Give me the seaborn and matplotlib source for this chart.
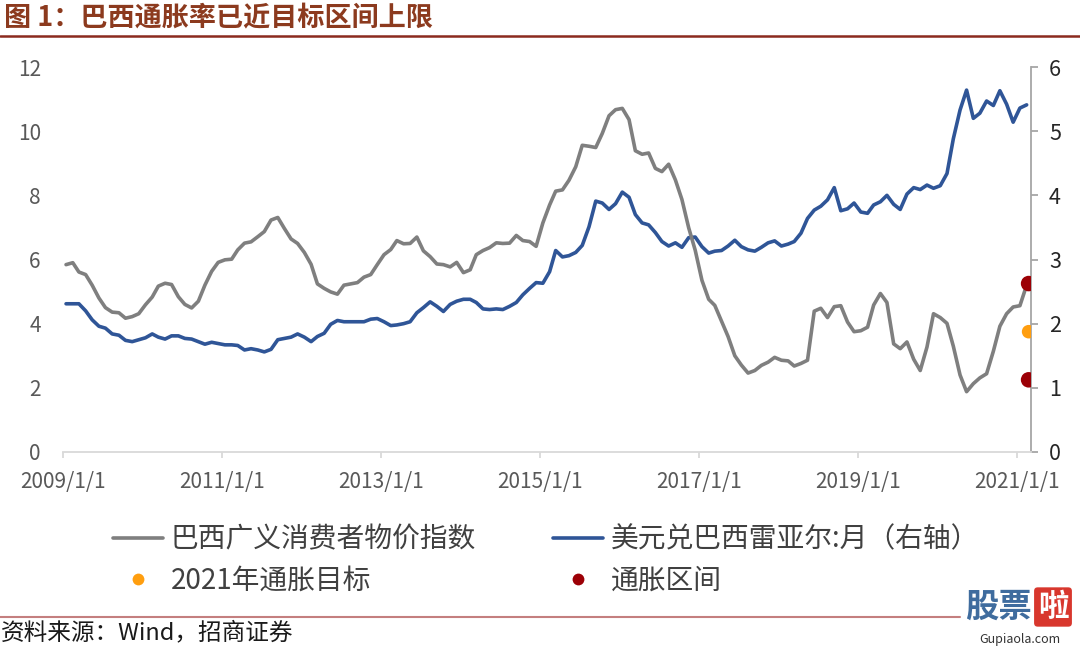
import numpy as np
import pandas as pd
import matplotlib
matplotlib.use("Agg")
import matplotlib.pyplot as plt
import matplotlib.dates as mdates
import seaborn as sns
from matplotlib.lines import Line2D

# ---------------- data ----------------
start_month = "2009-01"
# Brazil IPCA, 12-month % (left axis)
cpi = [
    5.84, 5.90, 5.61, 5.53, 5.20, 4.80, 4.50, 4.36, 4.34, 4.17, 4.22, 4.31,
    4.59, 4.83, 5.17, 5.26, 5.22, 4.84, 4.60, 4.49, 4.70, 5.20, 5.63, 5.91,
    5.99, 6.01, 6.30, 6.51, 6.55, 6.71, 6.87, 7.23, 7.31, 6.97, 6.64, 6.50,
    6.22, 5.85, 5.24, 5.10, 4.99, 4.92, 5.20, 5.24, 5.28, 5.45, 5.53, 5.84,
    6.15, 6.31, 6.59, 6.49, 6.50, 6.70, 6.27, 6.09, 5.86, 5.84, 5.77, 5.91,
    5.59, 5.68, 6.15, 6.28, 6.37, 6.52, 6.50, 6.51, 6.75, 6.59, 6.56, 6.41,
    7.14, 7.70, 8.13, 8.17, 8.47, 8.89, 9.56, 9.53, 9.49, 9.93, 10.48, 10.67,
    10.71, 10.36, 9.39, 9.28, 9.32, 8.84, 8.74, 8.97, 8.48, 7.87, 6.99, 6.29,
    5.35, 4.76, 4.57, 4.08, 3.60, 3.00, 2.71, 2.46, 2.54, 2.70, 2.80, 2.95,
    2.86, 2.84, 2.68, 2.76, 2.86, 4.39, 4.48, 4.19, 4.53, 4.56, 4.05, 3.75,
    3.78, 3.89, 4.58, 4.94, 4.66, 3.37, 3.22, 3.43, 2.89, 2.54, 3.27, 4.31,
    4.19, 4.01, 3.30, 2.40, 1.88, 2.13, 2.31, 2.44, 3.14, 3.92, 4.31, 4.52,
    4.56, 5.20,
]
# USD/BRL monthly (right axis)
brl = [
    2.31, 2.31, 2.31, 2.20, 2.06, 1.96, 1.93, 1.84, 1.82, 1.74, 1.72, 1.75,
    1.78, 1.84, 1.79, 1.76, 1.81, 1.81, 1.77, 1.76, 1.72, 1.68, 1.71, 1.69,
    1.67, 1.67, 1.66, 1.59, 1.61, 1.59, 1.56, 1.60, 1.75, 1.77, 1.79, 1.84,
    1.79, 1.72, 1.80, 1.85, 1.99, 2.05, 2.03, 2.03, 2.03, 2.03, 2.07, 2.08,
    2.03, 1.97, 1.98, 2.00, 2.03, 2.17, 2.25, 2.34, 2.27, 2.19, 2.30, 2.35,
    2.38, 2.38, 2.33, 2.23, 2.22, 2.23, 2.22, 2.27, 2.33, 2.45, 2.55, 2.64,
    2.63, 2.81, 3.14, 3.04, 3.06, 3.11, 3.22, 3.51, 3.91, 3.88, 3.78, 3.87,
    4.05, 3.97, 3.70, 3.57, 3.54, 3.42, 3.28, 3.21, 3.26, 3.19, 3.34, 3.35,
    3.20, 3.10, 3.13, 3.14, 3.21, 3.30, 3.20, 3.15, 3.13, 3.19, 3.26, 3.29,
    3.21, 3.24, 3.28, 3.41, 3.64, 3.77, 3.83, 3.93, 4.12, 3.76, 3.79, 3.88,
    3.74, 3.72, 3.85, 3.90, 4.00, 3.86, 3.78, 4.02, 4.12, 4.09, 4.16, 4.11,
    4.15, 4.34, 4.88, 5.33, 5.64, 5.20, 5.28, 5.47, 5.40, 5.63, 5.42, 5.14,
    5.36, 5.41,
]
target_2021 = [3.75]
band_2021 = [2.25, 5.25]
xtick_years = [2009, 2011, 2013, 2015, 2017, 2019, 2021]
left_ticks = [0, 2, 4, 6, 8, 10, 12]
right_ticks = [0, 1, 2, 3, 4, 5, 6]

label_cpi = "巴西广义消费者物价指数"
label_brl = "美元兑巴西雷亚尔:月（右轴）"
label_target = "2021年通胀目标"
label_band = "通胀区间"
title = "图 1：巴西通胀率已近目标区间上限"
source = "资料来源：Wind，招商证券"

# ---------------- style ----------------
sns.set_theme(style="white")
plt.rcParams["font.family"] = ["Noto Sans CJK SC", "DejaVu Sans"]

C_GRAY = "#7F7F7F"
C_BLUE = "#2F5597"
C_ORANGE = "#FF9E0F"
C_RED = "#9C0006"

W, H = 1080, 648
fig = plt.figure(figsize=(W / 100, H / 100), dpi=100)
ax = fig.add_axes([63 / W, 1 - 452 / H, (1031 - 63) / W, (452 - 67) / H])
ax2 = ax.twinx()

dates = pd.date_range(start_month + "-01", periods=len(cpi), freq="MS") + pd.Timedelta(days=14)
df = pd.DataFrame({"date": dates, "cpi": cpi, "brl": brl})

sns.lineplot(data=df, x="date", y="brl", ax=ax2, color=C_BLUE, linewidth=2.6)
sns.lineplot(data=df, x="date", y="cpi", ax=ax, color=C_GRAY, linewidth=2.6)

dot_date = dates[-1] + pd.Timedelta(days=9)
df_band = pd.DataFrame({"date": [dot_date] * len(band_2021), "v": band_2021})
df_tgt = pd.DataFrame({"date": [dot_date] * len(target_2021), "v": target_2021})
sns.scatterplot(data=df_band, x="date", y="v", ax=ax, color=C_RED, s=125,
                edgecolor="none", zorder=5, legend=False)
sns.scatterplot(data=df_tgt, x="date", y="v", ax=ax, color=C_ORANGE, s=95,
                edgecolor="none", zorder=5, legend=False)

ax.set_zorder(ax2.get_zorder() + 1)
ax.patch.set_visible(False)

ax.set_xlim(pd.Timestamp("2009-01-01"), pd.Timestamp("2021-03-07"))
ax.set_ylim(0, 12)
ax2.set_ylim(0, 6)
ax.set_yticks(left_ticks)
ax2.set_yticks(right_ticks)
ax.set_xticks([pd.Timestamp(f"{y}-01-01") for y in xtick_years])
ax.set_xticklabels([f"{y}/1/1" for y in xtick_years])

for a in (ax, ax2):
    a.set_xlabel("")
    a.set_ylabel("")
    a.grid(False)
    for s in a.spines.values():
        s.set_visible(False)

ax.spines["bottom"].set_visible(True)
ax.spines["bottom"].set_color("#D9D9D9")
ax.spines["bottom"].set_linewidth(1.3)
ax2.spines["right"].set_visible(True)
ax2.spines["right"].set_color("#A6A6A6")
ax2.spines["right"].set_linewidth(1.3)

ax.tick_params(axis="x", bottom=True, direction="out", length=4.5, width=1.3,
               color="#D9D9D9", labelsize=15, labelcolor="#595959", pad=9)
ax.tick_params(axis="y", left=False, length=0, labelsize=15, labelcolor="#595959", pad=16)
ax2.tick_params(axis="y", right=True, direction="out", length=5, width=1.3,
                color="#A6A6A6", labelsize=15.5, labelcolor="#262626", pad=8)

# legend
h_cpi = Line2D([], [], color=C_GRAY, lw=2.6)
h_brl = Line2D([], [], color=C_BLUE, lw=2.6)
h_tgt = Line2D([], [], color=C_ORANGE, marker="o", ls="none", markersize=8.5, markeredgewidth=0)
h_band = Line2D([], [], color=C_RED, marker="o", ls="none", markersize=8.5, markeredgewidth=0)
fig.legend(handles=[h_cpi, h_tgt, h_brl, h_band],
           labels=[label_cpi, label_target, label_brl, label_band],
           ncol=2, loc="center", bbox_to_anchor=(546 / W, 1 - 560 / H),
           frameon=False, fontsize=20, handlelength=1.8, handletextpad=0.3,
           columnspacing=2.75, labelspacing=0.4, labelcolor="#404040")

# title & rules
fig.text(4 / W, 1 - 18 / H, title, fontsize=19.5, fontweight="bold", color="#8C3A1E",
         va="center", ha="left")
fig.add_artist(Line2D([0, 1], [1 - 36 / H] * 2, color="#8B2A1E", lw=1.8))
fig.add_artist(Line2D([0, 960 / W], [1 - 617 / H] * 2, color="#C47F7F", lw=1.5))
fig.text(1 / W, 1 - 633 / H, source, fontsize=17, color="#1A1A1A", va="center", ha="left")

# watermark
fig.text(965 / W, 1 - 607 / H, "股票", fontsize=24, fontweight="bold", color="#3F6C9E",
         va="center", ha="left")
fig.text(1053 / W, 1 - 607 / H, "啦", fontsize=22, fontweight="bold", color="white",
         va="center", ha="center",
         bbox=dict(boxstyle="round,pad=0.12", fc="#D8372D", ec="none"))
fig.text(1020 / W, 1 - 640 / H, "Gupiaola.com", fontsize=9, color="#333333",
         va="center", ha="center")

fig.savefig("out.png", dpi=100, facecolor="white")
